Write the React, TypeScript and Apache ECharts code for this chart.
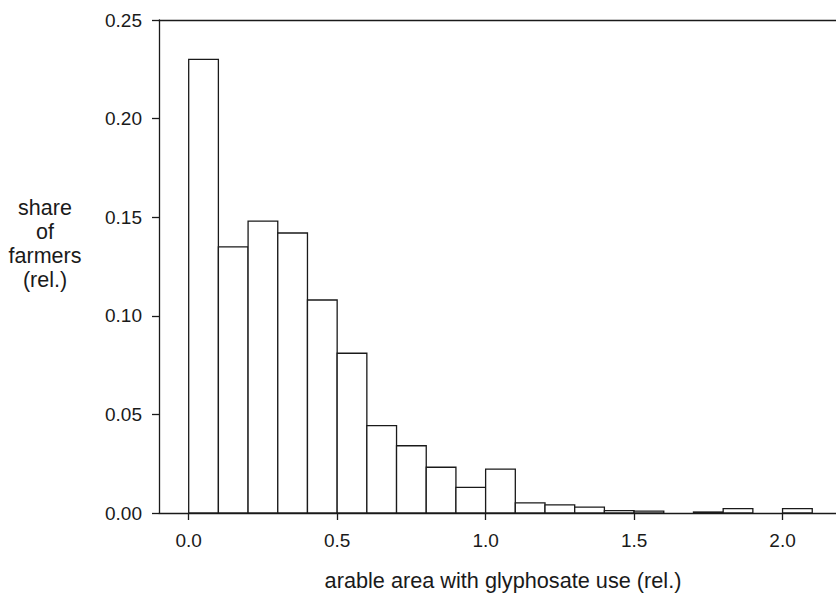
import React, { useEffect, useRef } from "react";
import * as echarts from "echarts";

const binStarts = [0.0, 0.1, 0.2, 0.3, 0.4, 0.5, 0.6, 0.7, 0.8, 0.9, 1.0, 1.1, 1.2, 1.3, 1.4, 1.5, 1.6, 1.7, 1.8, 1.9, 2.0];
const binWidth = 0.1;
const shares = [0.23, 0.135, 0.148, 0.142, 0.108, 0.081, 0.0443, 0.0341, 0.0232, 0.013, 0.0222, 0.0051, 0.0041, 0.003, 0.0012, 0.001, 0, 0.0005, 0.0022, 0, 0.0022];
const xTicks = [0.0, 0.5, 1.0, 1.5, 2.0];
const yTicks = [0.0, 0.05, 0.1, 0.15, 0.2, 0.25];
const xTitle = "arable area with glyphosate use (rel.)";
const yTitle = "share\nof\nfarmers\n(rel.)";

const FONT = "'Liberation Sans', Arial, sans-serif";
const INK = "#1a1a1a";

export default function App() {
  const ref = useRef<HTMLDivElement>(null);
  useEffect(() => {
    if (!ref.current) return;
    const chart = echarts.init(ref.current, null, { renderer: "svg" });
    const data = binStarts.map((s, i) => [s, s + binWidth, shares[i]]);
    chart.setOption({
      animation: false,
      backgroundColor: "#ffffff",
      grid: { left: 159, right: 0, top: 20, bottom: 80 },
      xAxis: [
        {
          type: "value",
          min: -0.1,
          max: 2.18,
          position: "bottom",
          splitLine: { show: false },
          axisLine: { show: true, onZero: false, lineStyle: { color: INK, width: 1.3 } },
          axisTick: {
            show: true,
            length: 7,
            lineStyle: { color: INK, width: 1.3 },
            customValues: xTicks,
          },
          axisLabel: {
            show: true,
            customValues: xTicks,
            margin: 18,
            color: INK,
            fontFamily: FONT,
            fontSize: 19,
            formatter: (v: number) => v.toFixed(1),
          },
        },
        {
          type: "value",
          min: -0.1,
          max: 2.18,
          position: "top",
          splitLine: { show: false },
          axisLine: { show: true, onZero: false, lineStyle: { color: INK, width: 1.3 } },
          axisTick: { show: false },
          axisLabel: { show: false },
        },
      ],
      yAxis: {
        type: "value",
        min: 0,
        max: 0.25,
        interval: 0.05,
        splitLine: { show: false },
        axisLine: { show: true, onZero: false, lineStyle: { color: INK, width: 1.3 } },
        axisTick: { show: true, length: 7, lineStyle: { color: INK, width: 1.3 } },
        axisLabel: {
          margin: 17,
          color: INK,
          fontFamily: FONT,
          fontSize: 19,
          customValues: yTicks,
          formatter: (v: number) => v.toFixed(2),
        },
      },
      graphic: [
        {
          type: "text",
          x: 45,
          y: 244,
          style: {
            text: yTitle,
            align: "center",
            verticalAlign: "middle",
            fill: INK,
            font: `21.5px ${FONT}`,
            lineHeight: 24,
          },
        },
        {
          type: "text",
          x: 503,
          y: 580,
          style: {
            text: xTitle,
            align: "center",
            verticalAlign: "middle",
            fill: INK,
            font: `21.7px ${FONT}`,
          },
        },
      ],
      series: [
        {
          type: "custom",
          xAxisIndex: 0,
          yAxisIndex: 0,
          data,
          encode: { x: [0, 1], y: 2 },
          renderItem: (params: any, api: any) => {
            const x0 = api.value(0);
            const x1 = api.value(1);
            const v = api.value(2);
            if (!v) return null;
            const p0 = api.coord([x0, v]);
            const p1 = api.coord([x1, 0]);
            return {
              type: "rect",
              shape: { x: p0[0], y: p0[1], width: p1[0] - p0[0], height: p1[1] - p0[1] },
              style: { fill: "#ffffff", stroke: INK, lineWidth: 1.3 },
            };
          },
        },
      ],
    });
    return () => chart.dispose();
  }, []);
  return (
    <div
      ref={ref}
      style={{ position: "absolute", left: 0, top: 0, width: 836, height: 593 }}
    />
  );
}
